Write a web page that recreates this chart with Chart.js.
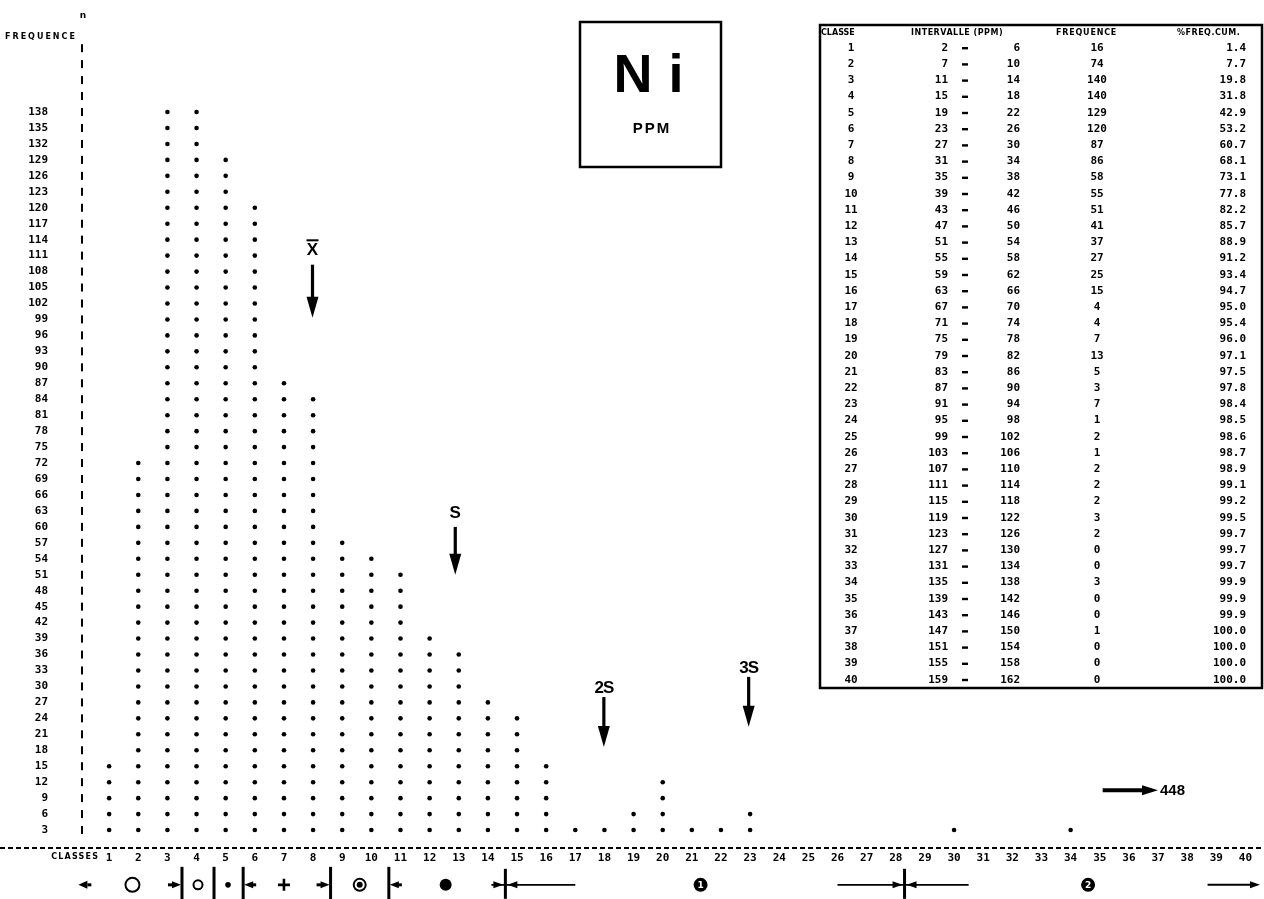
<!DOCTYPE html>
<html>
<head>
<meta charset="utf-8">
<title>Ni PPM - histogramme des fréquences</title>
<script src="https://cdn.jsdelivr.net/npm/chart.js@4.4.1/dist/chart.umd.min.js"></script>
<style>
  html, body { margin: 0; padding: 0; background: #fff; }
  canvas { display: block; }
</style>
</head>
<body>
<canvas id="niChart" width="1264" height="899"></canvas>
<script>
// Data
const classes = [1, 2, 3, 4, 5, 6, 7, 8, 9, 10, 11, 12, 13, 14, 15, 16, 17, 18, 19, 20,
  21, 22, 23, 24, 25, 26, 27, 28, 29, 30, 31, 32, 33, 34, 35, 36, 37, 38, 39, 40];
const intervalLow = [2, 7, 11, 15, 19, 23, 27, 31, 35, 39, 43, 47, 51, 55, 59, 63, 67, 71, 75, 79,
  83, 87, 91, 95, 99, 103, 107, 111, 115, 119, 123, 127, 131, 135, 139, 143, 147, 151, 155, 159];
const intervalHigh = [6, 10, 14, 18, 22, 26, 30, 34, 38, 42, 46, 50, 54, 58, 62, 66, 70, 74, 78, 82,
  86, 90, 94, 98, 102, 106, 110, 114, 118, 122, 126, 130, 134, 138, 142, 146, 150, 154, 158, 162];
const frequencies = [16, 74, 140, 140, 129, 120, 87, 86, 58, 55, 51, 41, 37, 27, 25, 15, 4, 4, 7, 13,
  5, 3, 7, 1, 2, 1, 2, 2, 2, 3, 2, 0, 0, 3, 0, 0, 1, 0, 0, 0];
const cumPercent = ["1.4", "7.7", "19.8", "31.8", "42.9", "53.2", "60.7", "68.1", "73.1", "77.8",
  "82.2", "85.7", "88.9", "91.2", "93.4", "94.7", "95.0", "95.4", "96.0", "97.1",
  "97.5", "97.8", "98.4", "98.5", "98.6", "98.7", "98.9", "99.1", "99.2", "99.5",
  "99.7", "99.7", "99.7", "99.9", "99.9", "99.9", "100.0", "100.0", "100.0", "100.0"];
const yTicks = [3, 6, 9, 12, 15, 18, 21, 24, 27, 30, 33, 36, 39, 42, 45, 48, 51, 54, 57, 60,
  63, 66, 69, 72, 75, 78, 81, 84, 87, 90, 93, 96, 99, 102, 105, 108, 111, 114, 117, 120,
  123, 126, 129, 132, 135, 138];
const dotStep = 3; // one printed dot = 3 samples

// Mean / standard deviation arrows (class position, frequency of label, shaft top, tip)
const statLabels = ["X", "S", "2S", "3S"];
const statClass = [7.98, 12.88, 17.98, 22.95];
const statLabelAt = [112, 62.6, 29.7, 33.5];
const statTop = [109.3, 60, 28, 31.8];
const statTip = [99.3, 51, 18.6, 22.4];
const outlierLabel = "448";

// Dots: one per 3 samples, stacked on each class
const dotPoints = [];
classes.forEach((c, i) => {
  for (let k = dotStep; k <= frequencies[i]; k += dotStep) dotPoints.push({ x: c, y: k });
});

const mono = "'DejaVu Sans Mono', 'Liberation Mono', monospace";
const sans = "'Liberation Sans', Arial, Helvetica, sans-serif";
const dejavu = "'DejaVu Sans', 'Liberation Sans', sans-serif";

// Symbols under the class axis (class position)
const rangeSymbols = [
  { kind: "leftHead", at: 0.15 },
  { kind: "circle", at: 1.8 },
  { kind: "barIn", at: 3.5 },
  { kind: "smallCircle", at: 4.05 },
  { kind: "bar", at: 4.6 },
  { kind: "dot", at: 5.08 },
  { kind: "barOut", at: 5.6 },
  { kind: "plus", at: 7.0 },
  { kind: "barIn", at: 8.6 },
  { kind: "circleDot", at: 9.6 },
  { kind: "barOut", at: 10.6 },
  { kind: "bigDot", at: 12.55 },
  { kind: "cross", at: 14.6, from: 14.6, to: 17.0 },
  { kind: "num", at: 21.3, text: "1" },
  { kind: "cross", at: 28.3, from: 26.0, to: 30.5 },
  { kind: "num", at: 34.6, text: "2" },
  { kind: "arrow", at: 38.7, to: 40.5 }
];

function text(ctx, str, x, y, font, align, spacing) {
  ctx.font = font;
  ctx.textAlign = align || "center";
  ctx.textBaseline = "middle";
  ctx.letterSpacing = spacing || "0px";
  ctx.fillText(str, x, y);
  ctx.letterSpacing = "0px";
}

function wedge(ctx, tipX, y, dir, len, half) {
  ctx.beginPath();
  ctx.moveTo(tipX, y);
  ctx.lineTo(tipX - dir * len, y - half);
  ctx.lineTo(tipX - dir * len, y + half);
  ctx.closePath();
  ctx.fill();
}

function downArrow(ctx, x, yTop, yTip) {
  ctx.lineWidth = 3.2;
  ctx.beginPath();
  ctx.moveTo(x, yTop);
  ctx.lineTo(x, yTip - 16);
  ctx.stroke();
  ctx.beginPath();
  ctx.moveTo(x - 6, yTip - 21);
  ctx.lineTo(x + 6, yTip - 21);
  ctx.lineTo(x, yTip);
  ctx.closePath();
  ctx.fill();
}

const decorations = {
  id: "decorations",
  afterDraw(chart) {
    const ctx = chart.ctx;
    const xs = chart.scales.x, ys = chart.scales.y;
    const px = c => xs.getPixelForValue(c);
    const py = v => ys.getPixelForValue(v);
    ctx.save();
    ctx.fillStyle = "#000";
    ctx.strokeStyle = "#000";

    // vertical axis made of short bars, as printed
    for (let v = 3; v <= 150; v += 3) ctx.fillRect(px(0) + 1, py(v) - 4, 2, 8);
    text(ctx, "n", px(0) + 3, 16, "bold 9px " + dejavu);
    text(ctx, "FREQUENCE", 5, 37, "bold 8px " + dejavu, "left", "2px");

    // horizontal dashed axis across the whole width
    ctx.lineWidth = 2.2;
    ctx.setLineDash([5, 3]);
    ctx.beginPath();
    ctx.moveTo(0, py(0) + 2);
    ctx.lineTo(chart.width, py(0) + 2);
    ctx.stroke();
    ctx.setLineDash([]);
    text(ctx, "CLASSES", px(1) - 10, 857, "bold 8px " + dejavu, "right", "1.2px");

    // symbols row
    const sy = py(-7.3);
    rangeSymbols.forEach(s => {
      const cx = px(s.at);
      ctx.lineWidth = 2;
      if (s.kind === "leftHead") {
        wedge(ctx, cx - 6, sy, -1, 9, 4);
        ctx.fillRect(cx + 3, sy - 1.5, 4, 3);
      } else if (s.kind === "circle") {
        ctx.beginPath(); ctx.arc(cx, sy, 7, 0, Math.PI * 2); ctx.stroke();
      } else if (s.kind === "smallCircle") {
        ctx.beginPath(); ctx.arc(cx, sy, 4.5, 0, Math.PI * 2); ctx.stroke();
      } else if (s.kind === "dot") {
        ctx.beginPath(); ctx.arc(cx, sy, 2.8, 0, Math.PI * 2); ctx.fill();
      } else if (s.kind === "bigDot") {
        ctx.beginPath(); ctx.arc(cx, sy, 6, 0, Math.PI * 2); ctx.fill();
      } else if (s.kind === "circleDot") {
        ctx.beginPath(); ctx.arc(cx, sy, 6, 0, Math.PI * 2); ctx.stroke();
        ctx.beginPath(); ctx.arc(cx, sy, 3, 0, Math.PI * 2); ctx.fill();
      } else if (s.kind === "plus") {
        ctx.lineWidth = 2.6;
        ctx.beginPath();
        ctx.moveTo(cx - 6, sy); ctx.lineTo(cx + 6, sy);
        ctx.moveTo(cx, sy - 6); ctx.lineTo(cx, sy + 6);
        ctx.stroke();
      } else if (s.kind === "bar" || s.kind === "barIn" || s.kind === "barOut") {
        ctx.fillRect(cx - 1.5, sy - 18, 3, 33);
        if (s.kind === "barIn") { wedge(ctx, cx - 1, sy, 1, 9, 3.5); ctx.fillRect(cx - 14, sy - 1.5, 5, 3); }
        if (s.kind === "barOut") { wedge(ctx, cx + 1, sy, -1, 9, 3.5); ctx.fillRect(cx + 9, sy - 1.5, 4, 3); }
      } else if (s.kind === "cross") {
        ctx.lineWidth = 1.6;
        ctx.beginPath();
        ctx.moveTo(s.from === s.at ? cx - 14 : px(s.from), sy);
        ctx.lineTo(px(s.to), sy);
        ctx.stroke();
        ctx.fillRect(cx - 1.5, sy - 16, 3, 30);
        wedge(ctx, cx - 2, sy, 1, 10, 3.5);
        wedge(ctx, cx + 2, sy, -1, 10, 3.5);
      } else if (s.kind === "num") {
        ctx.beginPath(); ctx.arc(cx, sy, 7, 0, Math.PI * 2); ctx.fill();
        ctx.fillStyle = "#fff";
        text(ctx, s.text, cx, sy + 0.5, "bold 9px " + dejavu);
        ctx.fillStyle = "#000";
      } else if (s.kind === "arrow") {
        ctx.lineWidth = 2;
        ctx.beginPath(); ctx.moveTo(cx, sy); ctx.lineTo(px(s.to) - 8, sy); ctx.stroke();
        wedge(ctx, px(s.to), sy, 1, 10, 3.5);
      }
    });

    // mean and standard deviation arrows
    statLabels.forEach((lab, i) => {
      const ax = px(statClass[i]);
      downArrow(ctx, ax, py(statTop[i]), py(statTip[i]));
      const ly = py(statLabelAt[i]);
      text(ctx, lab, ax, ly, "bold 17px " + sans, "center", lab.length > 1 ? "-1px" : "0px");
      if (lab === "X") ctx.fillRect(ax - 6, ly - 11, 12, 2);
    });

    // outlier arrow 448
    const oy = py(10.5);
    ctx.lineWidth = 4;
    ctx.beginPath(); ctx.moveTo(px(35.1), oy); ctx.lineTo(px(36.6), oy); ctx.stroke();
    wedge(ctx, px(37.0), oy, 1, 16, 5);
    text(ctx, outlierLabel, px(37.0) + 2, oy + 1, "bold 15px " + sans, "left");

    // element box
    ctx.lineWidth = 2.5;
    ctx.strokeRect(580, 22, 141, 145);
    text(ctx, "N", 633, 77, "bold 54px " + sans);
    text(ctx, "i", 676, 77, "bold 54px " + sans);
    text(ctx, "PPM", 652, 129, "bold 15px " + sans, "center", "2px");

    // frequency table
    ctx.strokeRect(820, 25, 442, 663);
    const hf = "bold 8px " + dejavu;
    text(ctx, "CLASSE", 821, 33, hf, "left");
    text(ctx, "INTERVALLE (PPM)", 911, 33, hf, "left", "0.5px");
    text(ctx, "FREQUENCE", 1056, 33, hf, "left", "0.8px");
    text(ctx, "%FREQ.CUM.", 1177, 33, hf, "left", "0.5px");
    const rf = "bold 11px " + mono;
    classes.forEach((c, i) => {
      const ry = 48 + i * 16.2;
      text(ctx, String(c), 851, ry, rf);
      text(ctx, String(intervalLow[i]), 948, ry, rf, "right");
      ctx.fillRect(962, ry - 1, 6, 2.4);
      text(ctx, String(intervalHigh[i]), 1020, ry, rf, "right");
      text(ctx, String(frequencies[i]), 1097, ry, rf);
      text(ctx, cumPercent[i], 1246, ry, rf, "right");
    });
    ctx.restore();
  }
};

new Chart(document.getElementById("niChart").getContext("2d"), {
  type: "scatter",
  data: {
    datasets: [{
      label: "Ni",
      data: dotPoints,
      pointRadius: 2.3,
      pointBackgroundColor: "#000",
      pointBorderWidth: 0,
      showLine: false
    }]
  },
  options: {
    responsive: false,
    animation: false,
    layout: { padding: { top: 45, right: 1, bottom: 0, left: 0 } },
    plugins: { legend: { display: false }, tooltip: { enabled: false } },
    scales: {
      x: {
        type: "linear",
        min: 0,
        max: 40.5,
        afterBuildTicks: s => { s.ticks = classes.map(v => ({ value: v })); },
        afterFit: s => { s.height = 53; },
        grid: { display: false, drawTicks: false },
        border: { display: false },
        ticks: {
          autoSkip: false, maxRotation: 0, minRotation: 0, padding: 6,
          color: "#000", font: { family: mono, weight: "bold", size: 11 }
        }
      },
      y: {
        min: 0,
        max: 150.6,
        afterBuildTicks: s => { s.ticks = yTicks.map(v => ({ value: v })); },
        afterFit: s => { s.width = 80; },
        grid: { display: false, drawTicks: false },
        border: { display: false },
        ticks: {
          padding: 32, color: "#000",
          font: { family: mono, weight: "bold", size: 11 }
        }
      }
    }
  },
  plugins: [decorations]
});
</script>
</body>
</html>
